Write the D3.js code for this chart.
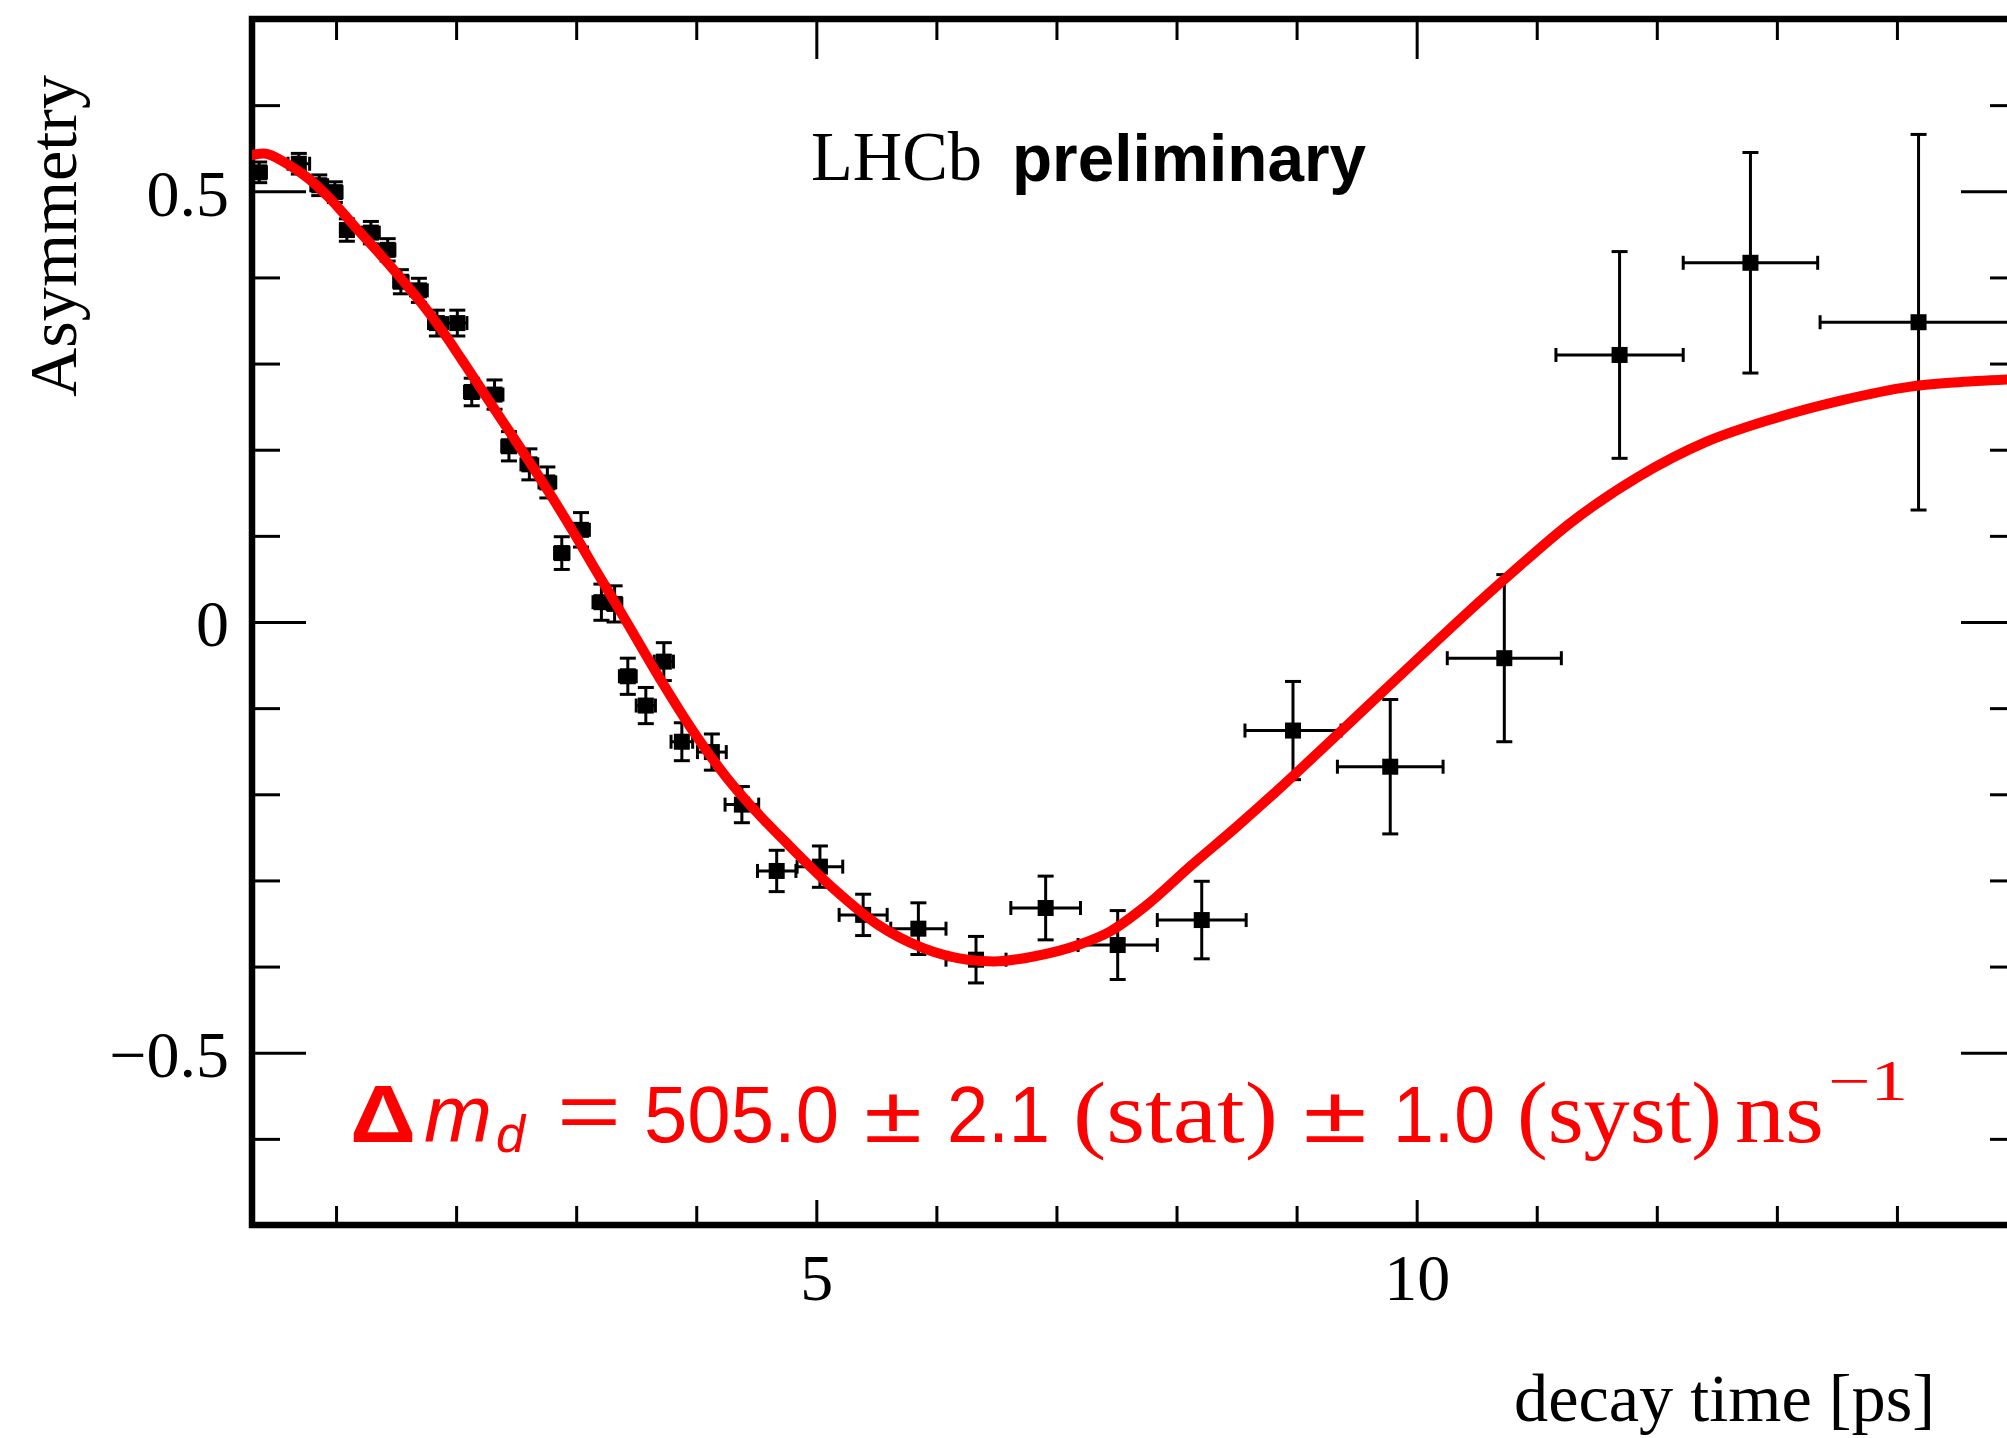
<!DOCTYPE html>
<html><head><meta charset="utf-8">
<script src="https://cdn.jsdelivr.net/npm/d3@7"></script>
<style>html,body{margin:0;padding:0;background:#fff;} svg{display:block;}</style>
</head><body>
<svg id="chart" width="2007" height="1438"></svg>
<script>
// ---------------- data ----------------
const binCenters = [0.36,0.69,0.86,0.99,1.09,1.29,1.43,1.54,1.69,1.84,
  2.01,2.13,2.32,2.44,2.61,2.76,2.88,3.04,3.21,3.32,
  3.43,3.58,3.73,3.88,4.13,4.38,4.67,5.03,5.39,5.85,
  6.33,6.91,7.51,8.21,8.97,9.78,10.73,11.69,12.78,14.18];
const binHalfWidths = [0.06,0.09,0.07,0.06,0.05,0.07,0.06,0.06,0.07,0.07,
  0.08,0.06,0.07,0.06,0.07,0.07,0.06,0.07,0.07,0.06,
  0.07,0.08,0.08,0.09,0.12,0.14,0.16,0.19,0.20,0.23,
  0.25,0.29,0.33,0.37,0.40,0.44,0.475,0.53,0.56,0.82];
const asymmetry = [0.522,0.532,0.507,0.499,0.455,0.452,0.432,0.395,0.385,0.347,
  0.347,0.267,0.264,0.204,0.183,0.162,0.080,0.107,0.023,0.021,
  -0.063,-0.097,-0.046,-0.139,-0.151,-0.212,-0.289,-0.284,-0.340,-0.356,
  -0.392,-0.332,-0.375,-0.346,-0.126,-0.168,-0.042,0.310,0.417,0.348];
const asymErrors = [0.012,0.012,0.012,0.012,0.013,0.013,0.013,0.014,0.014,0.015,
  0.015,0.016,0.017,0.017,0.018,0.018,0.019,0.020,0.021,0.021,
  0.021,0.021,0.022,0.022,0.021,0.021,0.024,0.024,0.024,0.030,
  0.027,0.037,0.040,0.045,0.057,0.078,0.097,0.120,0.128,0.218];

const fitTime = [0.30,0.40,0.59,0.76,0.96,1.15,1.34,1.54,1.73,1.90,2.05,2.33,2.61,2.83,3.00,3.13,3.42,3.69,3.97,4.25,4.40,4.77,5.14,5.52,5.88,6.26,6.48,6.82,7.18,7.45,7.74,8.12,8.49,8.86,9.23,9.61,10.00,10.40,10.80,11.28,11.84,12.41,12.97,13.53,14.10,14.47,15.00];
const fitAsym = [0.542,0.544,0.532,0.516,0.490,0.460,0.431,0.399,0.367,0.335,0.304,0.245,0.186,0.138,0.099,0.068,0.000,-0.064,-0.126,-0.180,-0.205,-0.259,-0.309,-0.352,-0.378,-0.392,-0.394,-0.388,-0.375,-0.359,-0.330,-0.283,-0.239,-0.193,-0.145,-0.095,-0.044,0.008,0.058,0.115,0.168,0.209,0.236,0.257,0.273,0.278,0.282];

const xMajorTicks = [5, 10];
const xTickLabels = ["5", "10"];
const xMinorTicks = [1,2,3,4,6,7,8,9,11,12,13,14];
const yMajorTicks = [-0.5, 0, 0.5];
const yTickLabels = ["\u22120.5", "0", "0.5"];
const yMinorTicks = [-0.6,-0.4,-0.3,-0.2,-0.1,0.1,0.2,0.3,0.4,0.6];

const xTitle = "decay time [ps]";
const yTitle = "Asymmetry";
const expLabel = "LHCb";
const statusLabel = "preliminary";

// ---------------- layout ----------------
const svg = d3.select("#chart");
const serif = "'Liberation Serif','Times New Roman',serif";
const sans = "'Liberation Sans',Arial,sans-serif";
const X0 = 252, X1 = 2017, Y0 = 19, Y1 = 1225;

const x = d3.scaleLinear().domain([0.3, 15]).range([X0, X1]);
const y = d3.scaleLinear().domain([-0.7, 0.7]).range([Y1, Y0]);

svg.append("defs").append("clipPath").attr("id","plotclip")
  .append("rect").attr("x", X0).attr("y", Y0).attr("width", X1 - X0).attr("height", Y1 - Y0);

function styleAxis(g, sw) {
  g.select(".domain").remove();
  g.selectAll(".tick line").attr("stroke", "#000").attr("stroke-width", sw);
}

// left axis
svg.append("g").attr("transform", `translate(${X0},0)`)
  .call(d3.axisLeft(y).tickValues(yMinorTicks).tickSize(-28).tickFormat(""))
  .call(g => styleAxis(g, 3));
svg.append("g").attr("transform", `translate(${X0},0)`)
  .call(d3.axisLeft(y).tickValues(yMajorTicks).tickSize(-54).tickPadding(23)
        .tickFormat((d, i) => yTickLabels[i]))
  .call(g => styleAxis(g, 3))
  .call(g => g.selectAll("text").attr("font-family", serif).attr("font-size", 66)
        .attr("fill", "#000").attr("dy", "0.36em"));

// right axis (ticks only)
svg.append("g").attr("transform", `translate(${X1},0)`)
  .call(d3.axisRight(y).tickValues(yMinorTicks).tickSize(-27).tickFormat(""))
  .call(g => styleAxis(g, 3));
svg.append("g").attr("transform", `translate(${X1},0)`)
  .call(d3.axisRight(y).tickValues(yMajorTicks).tickSize(-56).tickFormat(""))
  .call(g => styleAxis(g, 3));

// bottom axis
svg.append("g").attr("transform", `translate(0,${Y1})`)
  .call(d3.axisBottom(x).tickValues(xMinorTicks).tickSize(-19).tickFormat(""))
  .call(g => styleAxis(g, 3));
svg.append("g").attr("transform", `translate(0,${Y1})`)
  .call(d3.axisBottom(x).tickValues(xMajorTicks).tickSize(-25).tickPadding(28)
        .tickFormat((d, i) => xTickLabels[i]))
  .call(g => styleAxis(g, 3))
  .call(g => g.selectAll("text").attr("font-family", serif).attr("font-size", 66).attr("fill", "#000"));

// top axis (ticks only)
svg.append("g").attr("transform", `translate(0,${Y0})`)
  .call(d3.axisTop(x).tickValues(xMinorTicks).tickSize(-21).tickFormat(""))
  .call(g => styleAxis(g, 3));
svg.append("g").attr("transform", `translate(0,${Y0})`)
  .call(d3.axisTop(x).tickValues(xMajorTicks).tickSize(-40).tickFormat(""))
  .call(g => styleAxis(g, 3));

// frame
svg.append("path")
  .attr("d", `M${X1},${Y0}H${X0}V${Y1}H${X1}`)
  .attr("fill", "none").attr("stroke", "#000").attr("stroke-width", 6.5)
  .attr("stroke-linejoin", "miter");

// data points with error bars
const pts = binCenters.map((t, i) => ({t, hw: binHalfWidths[i], a: asymmetry[i], e: asymErrors[i]}));
const pg = svg.append("g").attr("clip-path", "url(#plotclip)");
const cap = 8, capH = 7;
const eb = pg.selectAll("g.pt").data(pts).join("g").attr("class", "pt")
  .attr("stroke", "#000").attr("stroke-width", 3).attr("fill", "none");
eb.append("line").attr("x1", d => x(d.t - d.hw)).attr("x2", d => x(d.t + d.hw))
  .attr("y1", d => y(d.a)).attr("y2", d => y(d.a));
eb.append("line").attr("x1", d => x(d.t)).attr("x2", d => x(d.t))
  .attr("y1", d => y(d.a - d.e)).attr("y2", d => y(d.a + d.e));
eb.append("line").attr("x1", d => x(d.t) - cap).attr("x2", d => x(d.t) + cap)
  .attr("y1", d => y(d.a + d.e)).attr("y2", d => y(d.a + d.e));
eb.append("line").attr("x1", d => x(d.t) - cap).attr("x2", d => x(d.t) + cap)
  .attr("y1", d => y(d.a - d.e)).attr("y2", d => y(d.a - d.e));
eb.append("line").attr("x1", d => x(d.t - d.hw)).attr("x2", d => x(d.t - d.hw))
  .attr("y1", d => y(d.a) - capH).attr("y2", d => y(d.a) + capH);
eb.append("line").attr("x1", d => x(d.t + d.hw)).attr("x2", d => x(d.t + d.hw))
  .attr("y1", d => y(d.a) - capH).attr("y2", d => y(d.a) + capH);
pg.selectAll("rect.mk").data(pts).join("rect").attr("class", "mk")
  .attr("x", d => x(d.t) - 8).attr("y", d => y(d.a) - 8)
  .attr("width", 16).attr("height", 16).attr("fill", "#000");

// fit curve
const fit = fitTime.map((t, i) => ({t, a: fitAsym[i]}));
svg.append("path").datum(fit).attr("clip-path", "url(#plotclip)")
  .attr("d", d3.line().x(d => x(d.t)).y(d => y(d.a)).curve(d3.curveMonotoneX))
  .attr("fill", "none").attr("stroke", "#ff0000").attr("stroke-width", 10)
  .attr("stroke-linecap", "round");

// titles
svg.append("text").attr("transform", "translate(76,75) rotate(-90)")
  .attr("text-anchor", "end").attr("font-family", serif).attr("font-size", 68)
  .attr("textLength", 322).attr("lengthAdjust", "spacingAndGlyphs").text(yTitle);
svg.append("text").attr("x", 1514).attr("y", 1421)
  .attr("font-family", serif).attr("font-size", 68)
  .attr("textLength", 421).attr("lengthAdjust", "spacingAndGlyphs").text(xTitle);

svg.append("text").attr("x", 811).attr("y", 180)
  .attr("font-family", serif).attr("font-size", 70)
  .attr("textLength", 171).attr("lengthAdjust", "spacingAndGlyphs").text(expLabel);
svg.append("text").attr("x", 1012).attr("y", 181)
  .attr("font-family", sans).attr("font-weight", "bold").attr("font-size", 67)
  .attr("textLength", 354).attr("lengthAdjust", "spacingAndGlyphs").text(statusLabel);

// result formula (red)
const formula = [
  {t:"\u0394", x:350, w:66, f:sans, s:82, wt:"bold", st:"normal", b:1142},
  {t:"m", x:424, w:68, f:sans, s:80, wt:"normal", st:"italic", b:1142},
  {t:"d", x:496, w:29, f:sans, s:52, wt:"normal", st:"italic", b:1152},
  {t:"=", x:557, w:64, f:sans, s:80, wt:"normal", st:"normal", b:1138},
  {t:"505.0", x:644, w:195, f:sans, s:80, wt:"normal", st:"normal", b:1142},
  {t:"\u00b1", x:864, w:58, f:sans, s:80, wt:"normal", st:"normal", b:1142},
  {t:"2.1", x:947, w:103, f:sans, s:80, wt:"normal", st:"normal", b:1142},
  {t:"(stat)", x:1073, w:205, f:serif, s:86, wt:"normal", st:"normal", b:1142},
  {t:"\u00b1", x:1303, w:64, f:sans, s:80, wt:"normal", st:"normal", b:1142},
  {t:"1.0", x:1393, w:102, f:sans, s:80, wt:"normal", st:"normal", b:1142},
  {t:"(syst)", x:1517, w:205, f:serif, s:86, wt:"normal", st:"normal", b:1142},
  {t:"ns", x:1735, w:89, f:serif, s:86, wt:"normal", st:"normal", b:1142},
  {t:"\u22121", x:1828, w:80, f:serif, s:56, wt:"normal", st:"normal", b:1100}
];
svg.append("g").selectAll("text").data(formula).join("text")
  .attr("x", d => d.x).attr("y", d => d.b)
  .attr("font-family", d => d.f).attr("font-size", d => d.s)
  .attr("font-weight", d => d.wt).attr("font-style", d => d.st)
  .attr("textLength", d => d.w).attr("lengthAdjust", "spacingAndGlyphs")
  .attr("fill", "#ff0000").text(d => d.t);
</script>
</body></html>
